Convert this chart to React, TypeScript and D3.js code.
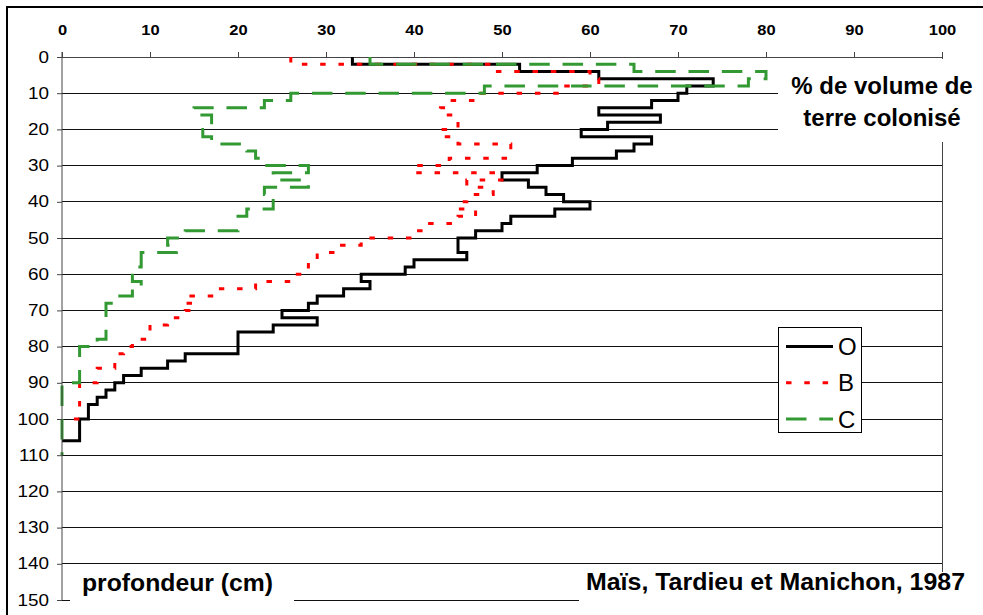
import { useEffect, useRef } from "react";
import * as d3 from "d3";

// axis ticks
const xTicks = [0, 10, 20, 30, 40, 50, 60, 70, 80, 90, 100];
const yTicks = [0, 10, 20, 30, 40, 50, 60, 70, 80, 90, 100, 110, 120, 130, 140, 150];

// O : layer boundaries (cm) and % colonised volume for each layer
const oDepth = [0, 2, 4, 6, 8, 10, 12, 14, 16, 18, 20, 22, 24, 26, 28, 30, 32, 34, 36, 38, 40, 42, 44, 46, 48, 50, 54, 56, 58, 60, 62, 64, 66, 68, 70, 72, 74, 76, 82, 84, 86, 88, 90, 92, 94, 96, 100, 106, 106];
const oValue = [33, 52, 61, 74, 71, 70, 67, 61, 68, 62, 59, 67, 65, 63, 58, 54, 50, 53, 55, 57, 60, 56, 51, 50, 47, 45, 46, 40, 39, 34, 35, 32, 29, 28, 25, 29, 24, 20, 14, 12, 9, 7, 6, 5, 4, 3, 2, 0];

// B
const bDepth = [0, 2, 4, 6, 8, 10, 12, 14, 16, 20, 22, 24, 28, 30, 32, 34, 36, 38, 40, 42, 44, 46, 48, 50, 52, 54, 56, 60, 62, 64, 66, 68, 70, 72, 74, 78, 80, 82, 86, 90, 100, 100];
const bValue = [26, 49, 60, 61, 57, 47, 44, 43, 45, 43, 45, 51, 44, 40, 50, 46, 49, 46, 45, 47, 45, 41, 40, 34, 31, 29, 28, 26, 22, 18, 14, 15, 14, 12, 10, 8, 7, 6, 4, 2, 0];

// C
const cDepth = [0, 2, 4, 6, 8, 10, 12, 14, 16, 20, 22, 24, 26, 28, 30, 32, 34, 36, 38, 42, 44, 48, 50, 52, 54, 58, 62, 64, 66, 68, 78, 80, 90, 110];
const cValue = [35, 65, 80, 78, 48, 26, 23, 15, 17, 16, 17, 21, 22, 23, 28, 24, 28, 23, 24, 21, 20, 14, 12, 13, 9, 8, 9, 8, 6, 5, 4, 2, 0];

const series = [
   { name: "O", depth: oDepth, value: oValue, color: "#000000", dash: "none" },
   { name: "B", depth: bDepth, value: bValue, color: "#ff0000", dash: "5.5,12.8" },
   { name: "C", depth: cDepth, value: cValue, color: "#339933", dash: "20.5,12.8" },
];

const font = "'Liberation Sans', Arial, sans-serif";

// vertical steps: value is constant over each depth layer
const stepPoints = (depth: number[], value: number[]) => {
   const pts: [number, number][] = [];
   value.forEach((v, i) => {
      pts.push([v, depth[i]]);
      pts.push([v, depth[i + 1]]);
   });
   return pts;
};

export default function App() {
   const axisRef = useRef<SVGGElement>(null);

   const width = 983;
   const height = 615;

   const x = d3.scaleLinear().domain([0, 100]).range([62, 942]);
   const y = d3.scaleLinear().domain([0, 150]).range([57, 600]);

   const line = d3.line<[number, number]>()
      .x((d) => x(d[0]))
      .y((d) => y(d[1]));

   useEffect(() => {
      const g = d3.select(axisRef.current);
      g.selectAll("*").remove();

      // top axis
      const xAxis = d3.axisTop(x).tickValues(xTicks).tickSize(5).tickPadding(17).tickSizeOuter(0);
      const gx = g.append("g").attr("transform", `translate(0,${y(0)})`).call(xAxis);
      gx.select(".domain").remove();
      gx.attr("font-family", font);
      gx.selectAll("line").attr("stroke", "#444");
      gx.selectAll("text")
         .attr("font-size", 14)
         .attr("font-weight", "bold")
         .attr("fill", "#000")
         .attr("transform", "scale(1.18,1)");

      // left axis
      const yAxis = d3.axisLeft(y).tickValues(yTicks).tickSize(5).tickPadding(6).tickSizeOuter(0);
      const gy = g.append("g").attr("transform", `translate(${x(0)},0)`).call(yAxis);
      gy.select(".domain").remove();
      gy.attr("font-family", font);
      gy.selectAll("line").attr("stroke", "#444");
      gy.selectAll("text")
         .attr("font-size", 16)
         .attr("fill", "#000")
         .attr("transform", "scale(1.18,1)");

      g.append("line")
         .attr("x1", x(0)).attr("x2", x(0))
         .attr("y1", y(0) - 5).attr("y2", y(150))
         .attr("stroke", "#444");
   }, []);

   return (
      <svg width={width} height={height} style={{ position: "absolute", left: 0, top: 0, background: "#fff" }}>
         {/* grid */}
         <g shapeRendering="crispEdges">
            {yTicks.map((t) => (
               <line key={t} x1={x(0)} x2={x(100)} y1={y(t)} y2={y(t)} stroke={t === 0 ? "#444" : "#111"} />
            ))}
            <line x1={x(100)} x2={x(100)} y1={y(0)} y2={y(150)} stroke="#444" />
         </g>

         {/* series */}
         {series.map((s) => (
            <path key={s.name} d={line(stepPoints(s.depth, s.value)) || ""} fill="none"
               stroke={s.color} strokeWidth={3} strokeDasharray={s.dash} strokeLinejoin="miter" />
         ))}

         {/* text boxes */}
         <rect x={778} y={59} width={210} height={83} fill="#fff" />
         <rect x={70} y={572} width={224} height={50} fill="#fff" />
         <rect x={579} y={572} width={410} height={50} fill="#fff" />

         <g fontFamily={font} fontWeight="bold" fontSize={24} fill="#000" textAnchor="middle">
            <text x={882} y={94}>% de volume de</text>
            <text x={882} y={126}>terre colonisé</text>
         </g>
         <g fontFamily={font} fontWeight="bold" fontSize={23} fill="#000">
            <text x={82} y={591} textLength={191} lengthAdjust="spacingAndGlyphs">profondeur (cm)</text>
            <text x={586} y={590} textLength={379} lengthAdjust="spacingAndGlyphs">Maïs, Tardieu et Manichon, 1987</text>
         </g>

         {/* legend */}
         <rect x={778.5} y={327.5} width={83} height={105} fill="#fff" stroke="#000" />
         {series.map((s, i) => {
            const ly = y(80 + i * 10);
            return (
               <g key={s.name}>
                  <line x1={786} x2={833} y1={ly} y2={ly} stroke={s.color} strokeWidth={3} strokeDasharray={s.dash} />
                  <text x={838} y={ly} dy="0.36em" fontFamily={font} fontSize={24} fill="#000">{s.name}</text>
               </g>
            );
         })}

         <g ref={axisRef} />

         {/* outer frame */}
         <rect x={7} y={7} width={1000} height={1000} fill="none" stroke="#000" strokeWidth={2} />
      </svg>
   );
}
